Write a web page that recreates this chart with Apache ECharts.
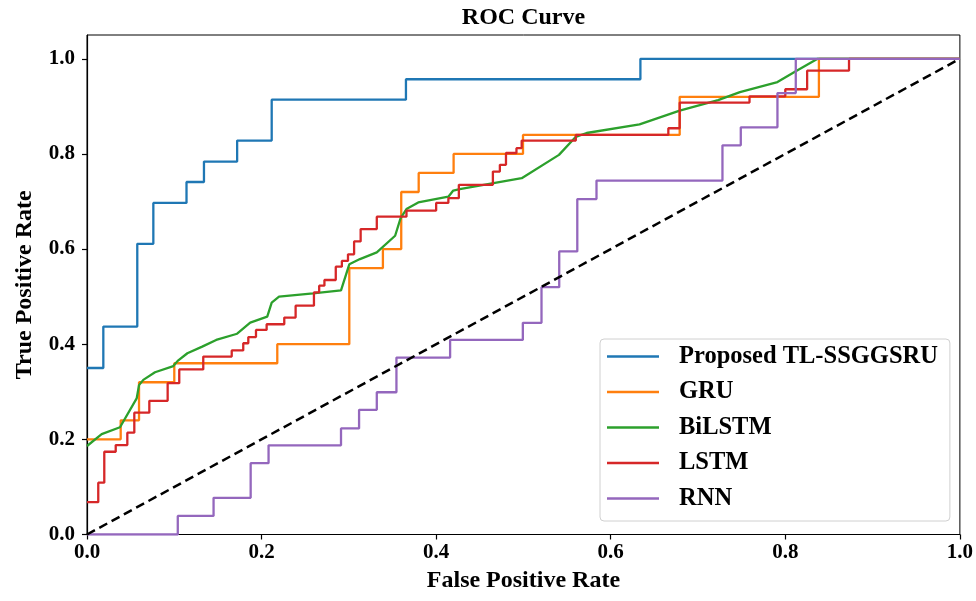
<!DOCTYPE html>
<html>
<head>
<meta charset="utf-8">
<script src="https://cdn.jsdelivr.net/npm/echarts@6/dist/echarts.min.js"></script>
<style>html,body{margin:0;padding:0;background:#fff}#c{width:976px;height:601px}</style>
</head>
<body>
<div id="c"></div>
<script>
// ---- data ----
const xTicks = [0, 0.2, 0.4, 0.6, 0.8, 1.0];
const yTicks = [0, 0.2, 0.4, 0.6, 0.8, 1.0];
const seriesNames = ['Proposed TL-SSGGSRU', 'GRU', 'BiLSTM', 'LSTM', 'RNN'];

// step curves: fpr where the step occurs, tpr level after the step
const propFpr = [0, 0.0187, 0.0576, 0.076, 0.114, 0.134, 0.172, 0.2116, 0.3654, 0.634, 1.0];
const propTpr = [0.35, 0.437, 0.611, 0.697, 0.741, 0.784, 0.828, 0.914, 0.957, 1.0, 1.0];

const gruFpr = [0, 0.0386, 0.0596, 0.100, 0.218, 0.3005, 0.339, 0.360, 0.380, 0.420, 0.4995, 0.679, 0.8385, 1.0];
const gruTpr = [0.20, 0.24, 0.32, 0.36, 0.40, 0.56, 0.60, 0.72, 0.76, 0.80, 0.84, 0.92, 1.0, 1.0];

const lstmFpr = [0, 0.0129, 0.0198, 0.0329, 0.0462, 0.0542, 0.0714, 0.0924, 0.1057, 0.1332, 0.1658, 0.179, 0.1848, 0.1936, 0.2058, 0.226, 0.239, 0.260, 0.266, 0.272, 0.285, 0.292, 0.299, 0.306, 0.3135, 0.332, 0.366, 0.400, 0.414, 0.426, 0.465, 0.473, 0.480, 0.492, 0.498, 0.560, 0.666, 0.679, 0.759, 0.800, 0.825, 0.873, 1.0];
const lstmTpr = [0.068, 0.109, 0.174, 0.188, 0.214, 0.256, 0.281, 0.318, 0.347, 0.374, 0.387, 0.402, 0.415, 0.430, 0.442, 0.456, 0.481, 0.509, 0.523, 0.535, 0.563, 0.575, 0.589, 0.616, 0.642, 0.668, 0.681, 0.697, 0.707, 0.735, 0.763, 0.777, 0.802, 0.812, 0.828, 0.840, 0.854, 0.908, 0.921, 0.936, 0.975, 1.0, 1.0];

const rnnFpr = [0, 0.104, 0.145, 0.1875, 0.208, 0.291, 0.3117, 0.332, 0.3545, 0.416, 0.4993, 0.5207, 0.541, 0.5617, 0.5837, 0.728, 0.749, 0.791, 0.812, 1.0];
const rnnTpr = [0, 0.039, 0.077, 0.150, 0.1875, 0.223, 0.262, 0.299, 0.372, 0.409, 0.445, 0.520, 0.595, 0.705, 0.744, 0.818, 0.856, 0.928, 1.0, 1.0];

// straight segments between ROC points
const bilstmFpr = [0, 0.0168, 0.0378, 0.0569, 0.0596, 0.0645, 0.0779, 0.0989, 0.1039, 0.115, 0.132, 0.148, 0.172, 0.187, 0.2065, 0.2116, 0.220, 0.259, 0.291, 0.3005, 0.3127, 0.332, 0.353, 0.3593, 0.366, 0.3795, 0.414, 0.4196, 0.427, 0.498, 0.5407, 0.560, 0.5724, 0.633, 0.679, 0.723, 0.748, 0.791, 0.812, 0.837, 1.0];
const bilstmTpr = [0.186, 0.211, 0.2255, 0.286, 0.314, 0.325, 0.341, 0.354, 0.365, 0.381, 0.395, 0.409, 0.422, 0.4455, 0.458, 0.4875, 0.500, 0.507, 0.513, 0.568, 0.579, 0.593, 0.628, 0.665, 0.684, 0.698, 0.710, 0.723, 0.726, 0.749, 0.798, 0.836, 0.844, 0.862, 0.891, 0.913, 0.930, 0.951, 0.974, 1.0, 1.0];

const chanceFpr = [0, 1];
const chanceTpr = [0, 1];

// ---- chart ----
const zip = (a, b) => a.map((v, i) => [v, b[i]]);
const FONT = '"Liberation Serif", "Times New Roman", serif';
const colors = ['#1f77b4', '#ff7f0e', '#2ca02c', '#d62728', '#9467bd'];

function curve(name, fpr, tpr, color, step) {
  return {
    name: name, type: 'line', data: zip(fpr, tpr), step: step ? 'end' : false,
    showSymbol: false, symbol: 'none', color: color,
    lineStyle: { color: color, width: 2.3 }, itemStyle: { color: color },
    emphasis: { disabled: true }, silent: true
  };
}

const chart = echarts.init(document.getElementById('c'), null, { renderer: 'canvas' });
chart.setOption({
  backgroundColor: '#ffffff',
  animation: false,
  color: colors,
  graphic: [{
    type: 'text', x: 523.5, y: 6,
    style: { text: 'ROC Curve', font: 'bold 24px ' + FONT, fill: '#000', textAlign: 'center', textVerticalAlign: 'top' }
  }],
  grid: { left: 87, right: 16, top: 35, bottom: 66.5, show: true, borderColor: '#000', borderWidth: 1, backgroundColor: 'transparent' },
  legend: {
    data: seriesNames, orient: 'vertical', left: 600, top: 339,
    backgroundColor: '#fff', borderColor: '#d0d0d0', borderWidth: 1, borderRadius: 4,
    padding: [5, 12, 10, 7], itemGap: 10.5, itemWidth: 52, itemHeight: 2.5, icon: 'rect',
    textStyle: { fontFamily: FONT, fontWeight: 'bold', fontSize: 24.5, color: '#000', padding: [0, 0, 0, 15] },
    selectedMode: false
  },
  xAxis: {
    type: 'value', min: 0, max: 1, interval: 0.2,
    name: 'False Positive Rate', nameLocation: 'middle', nameGap: 34,
    nameTextStyle: { fontFamily: FONT, fontWeight: 'bold', fontSize: 24, color: '#000' },
    axisLine: { show: true, lineStyle: { color: '#000', width: 1.2 } },
    axisTick: { show: true, inside: false, length: 5, lineStyle: { color: '#000', width: 1.2 }, customValues: xTicks },
    axisLabel: { fontFamily: FONT, fontWeight: 'bold', fontSize: 21, color: '#000', margin: 8, customValues: xTicks, formatter: v => v.toFixed(1) },
    splitLine: { show: false }
  },
  yAxis: {
    type: 'value', min: 0, max: 1.05, interval: 0.2,
    name: 'True Positive Rate', nameLocation: 'middle', nameGap: 50,
    nameTextStyle: { fontFamily: FONT, fontWeight: 'bold', fontSize: 24, color: '#000' },
    axisLine: { show: true, lineStyle: { color: '#000', width: 1.2 } },
    axisTick: { show: true, inside: false, length: 5, lineStyle: { color: '#000', width: 1.2 }, customValues: yTicks },
    axisLabel: { fontFamily: FONT, fontWeight: 'bold', fontSize: 21, color: '#000', margin: 12, customValues: yTicks, showMaxLabel: true, formatter: v => v.toFixed(1) },
    splitLine: { show: false }
  },
  series: [
    curve(seriesNames[0], propFpr, propTpr, colors[0], true),
    curve(seriesNames[1], gruFpr, gruTpr, colors[1], true),
    curve(seriesNames[2], bilstmFpr, bilstmTpr, colors[2], false),
    curve(seriesNames[3], lstmFpr, lstmTpr, colors[3], true),
    curve(seriesNames[4], rnnFpr, rnnTpr, colors[4], true),
    {
      name: 'chance', type: 'line', data: zip(chanceFpr, chanceTpr), showSymbol: false, symbol: 'none',
      lineStyle: { color: '#000', width: 2.5, type: [9, 5] }, silent: true, z: 3
    }
  ]
});
</script>
</body>
</html>
